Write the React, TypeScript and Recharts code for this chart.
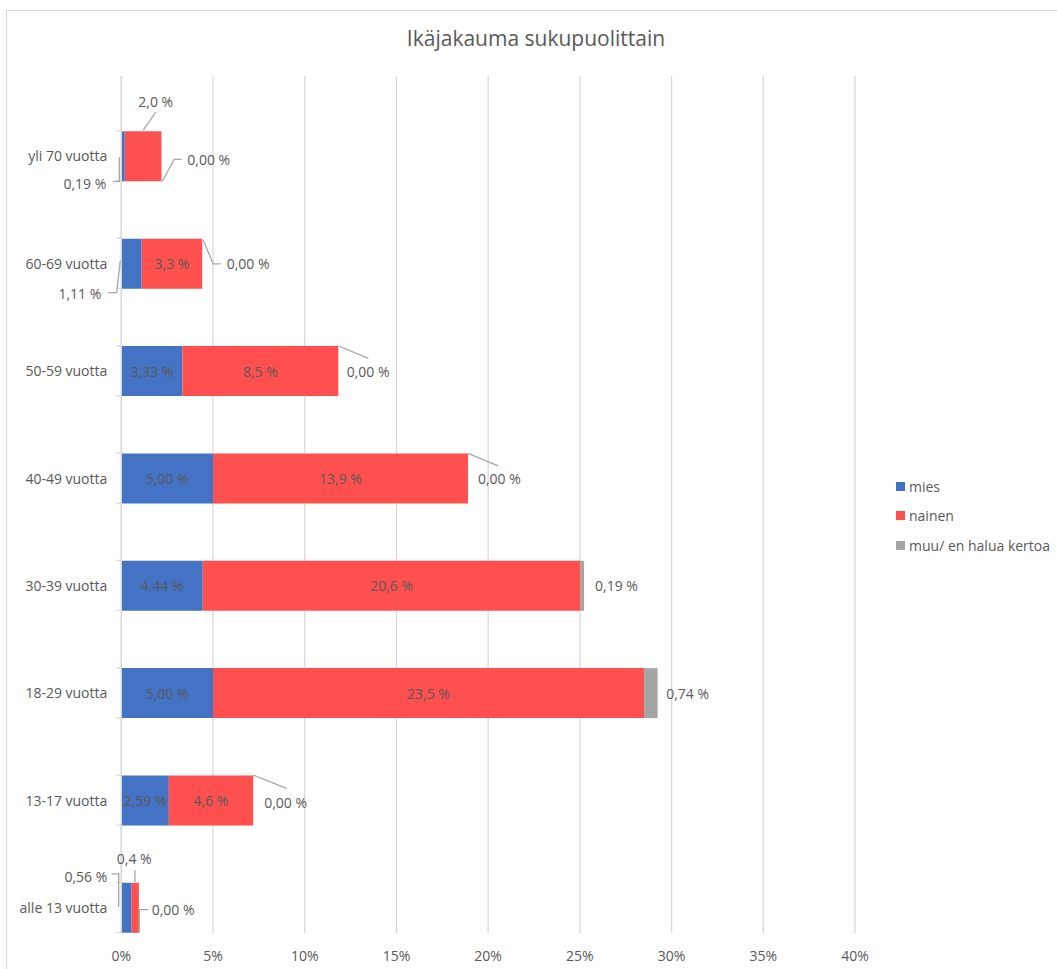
import React from 'react';
import { BarChart, Bar, XAxis, YAxis, CartesianGrid, Legend, LabelList } from 'recharts';

// ---------- data ----------
const categories = [
  'yli 70 vuotta',
  '60-69 vuotta',
  '50-59 vuotta',
  '40-49 vuotta',
  '30-39 vuotta',
  '18-29 vuotta',
  '13-17 vuotta',
  'alle 13 vuotta',
];
const miesValues = [0.19, 1.11, 3.33, 5.0, 4.44, 5.0, 2.59, 0.56];
const nainenValues = [2.0, 3.3, 8.5, 13.9, 20.6, 23.5, 4.6, 0.4];
const muuValues = [0, 0, 0, 0, 0.19, 0.74, 0, 0];
const seriesNames = ['mies', 'nainen', 'muu/ en halua kertoa'];
const xTicks = [0, 5, 10, 15, 20, 25, 30, 35, 40];
const chartTitle = 'Ikäjakauma sukupuolittain';

// ---------- styles ----------
const COLORS = ['#4472C4', '#FF5050', '#A5A5A5'];
const TEXT = '#595959';
const GRID = '#d9d9d9';
const LEADER = '#a6a6a6';
const FONT = '"Open Sans", "Liberation Sans", sans-serif';

const W = 1057;
const H = 969;
const Y_AXIS_W = 121.3;
const X_AXIS_H = 30;
const MARGIN = { top: 76, right: 202, bottom: 6, left: 0 };
const PLOT_BOTTOM = H - MARGIN.bottom - X_AXIS_H;
const BAR_SIZE = 50;

const data = categories.map((c, i) => ({
  cat: c,
  mies: miesValues[i],
  nainen: nainenValues[i],
  muu: muuValues[i],
}));

// label layout (offsets relative to the segment, per category); null = centred inside
type LabelSpec = {
  ref: 'start' | 'mid' | 'end';
  text: [number, number];
  anchor: 'start' | 'middle' | 'end';
  leader?: [number, number][];
} | null;

const miesLabelLayout: LabelSpec[] = [
  { ref: 'start', text: [-15, 27], anchor: 'end', leader: [[-8.5, 25], [-2, 25], [-2, 1]] },
  { ref: 'start', text: [-20, 30], anchor: 'end', leader: [[-13, 29], [-4.6, 29], [-1, -3]] },
  null,
  null,
  null,
  null,
  null,
  { ref: 'start', text: [-14, -31], anchor: 'end', leader: [[-9.6, -34], [-2.6, -34], [-2.6, -1]] },
];
const nainenLabelLayout: LabelSpec[] = [
  { ref: 'mid', text: [12.6, -55.3], anchor: 'middle', leader: [[0, -26], [12.7, -44.3]] },
  null,
  null,
  null,
  null,
  null,
  null,
  { ref: 'mid', text: [-1, -49], anchor: 'middle', leader: [[-0.3, -25.8], [-0.3, -37.5]] },
];
const muuLabelLayout: LabelSpec[] = [
  { ref: 'end', text: [25.8, 3], anchor: 'start', leader: [[0.8, 25], [12.8, 3], [20.2, 3]] },
  { ref: 'end', text: [24.5, 0.3], anchor: 'start', leader: [[1, -23.7], [11, 0.3], [18.5, 0.3]] },
  { ref: 'end', text: [8.4, 0.7], anchor: 'start', leader: [[0, -25.3], [30, -12.7]] },
  { ref: 'end', text: [10, 0], anchor: 'start', leader: [[0, -25], [30, -12.5]] },
  { ref: 'end', text: [11, 0], anchor: 'start' },
  { ref: 'end', text: [8.6, 0], anchor: 'start' },
  { ref: 'end', text: [11, 2], anchor: 'start', leader: [[0, -25.4], [33.4, -12]] },
  { ref: 'end', text: [12.8, 1.8], anchor: 'start', leader: [[0.4, 25], [0.4, 1.8], [9.4, 1.8]] },
];

function fmt(v: number, d: number) {
  return v.toFixed(d).replace('.', ',') + ' %';
}

function renderOne(txt: string, x: number, w: number, yc: number, spec: LabelSpec, key: string) {
  if (!spec) {
    return (
      <text key={key} x={x + w / 2} y={yc} textAnchor="middle" dominantBaseline="central" fill={TEXT} fontSize={14} fontFamily={FONT}>
        {txt}
      </text>
    );
  }
  const rx = spec.ref === 'start' ? x : spec.ref === 'mid' ? x + w / 2 : x + w;
  return (
    <g key={key}>
      {spec.leader && (
        <polyline
          points={spec.leader.map(([dx, dy]) => `${rx + dx},${yc + dy}`).join(' ')}
          fill="none"
          stroke={LEADER}
          strokeWidth={1.3}
        />
      )}
      <text
        x={rx + spec.text[0]}
        y={yc + spec.text[1]}
        textAnchor={spec.anchor}
        dominantBaseline="central"
        fill={TEXT}
        fontSize={14}
        fontFamily={FONT}
      >
        {txt}
      </text>
    </g>
  );
}

function readBox(props: any) {
  const vb = props.viewBox || {};
  return {
    x: Number(vb.x ?? props.x),
    y: Number(vb.y ?? props.y),
    w: Number(vb.width ?? props.width),
    h: Number(vb.height ?? props.height),
  };
}

const miesLabel = (props: any) => {
  const idx: number = props.index;
  const { x, y, w, h } = readBox(props);
  if (idx == null || Number.isNaN(x) || Number.isNaN(y)) return null;
  return renderOne(fmt(miesValues[idx], 2), x, w, y + h / 2, miesLabelLayout[idx], 'm');
};

// the nainen label also places the muu label, since zero-width muu segments get no label of their own
const nainenLabel = (props: any) => {
  const idx: number = props.index;
  const { x, y, w, h } = readBox(props);
  if (idx == null || Number.isNaN(x) || Number.isNaN(y)) return null;
  const yc = y + h / 2;
  const pxPerUnit = w / nainenValues[idx];
  const muuX = x + w;
  const muuW = muuValues[idx] * pxPerUnit;
  return (
    <g>
      {renderOne(fmt(nainenValues[idx], 1), x, w, yc, nainenLabelLayout[idx], 'n')}
      {renderOne(fmt(muuValues[idx], 2), muuX, muuW, yc, muuLabelLayout[idx], 'u')}
    </g>
  );
};

const CategoryTick = (props: any) => {
  const { y, payload } = props;
  const ax = MARGIN.left + Y_AXIS_W;
  return (
    <g>
      <text x={ax - 14} y={y} textAnchor="end" dominantBaseline="central" fill={TEXT} fontSize={14} fontFamily={FONT}>
        {payload.value}
      </text>
      <line x1={ax - 5} x2={ax} y1={y - BAR_SIZE / 2} y2={y - BAR_SIZE / 2} stroke={GRID} strokeWidth={1.3} />
      <line x1={ax - 5} x2={ax} y1={y + BAR_SIZE / 2} y2={y + BAR_SIZE / 2} stroke={GRID} strokeWidth={1.3} />
    </g>
  );
};

const PercentTick = (props: any) => {
  const { x, payload } = props;
  return (
    <text x={x} y={PLOT_BOTTOM + 22} textAnchor="middle" dominantBaseline="central" fill={TEXT} fontSize={14} fontFamily={FONT}>
      {`${payload.value}%`}
    </text>
  );
};

const LegendBox = () => (
  <div style={{ position: 'absolute', left: 896, top: 472, fontFamily: FONT, fontSize: 14, color: TEXT, whiteSpace: 'nowrap' }}>
    {seriesNames.map((n, i) => (
      <div key={n} style={{ display: 'flex', alignItems: 'center', height: 29.3 }}>
        <span style={{ display: 'inline-block', width: 9, height: 9, background: COLORS[i], marginRight: 4 }} />
        <span>{n}</span>
      </div>
    ))}
  </div>
);

export default function App() {
  return (
    <div style={{ position: 'absolute', left: 0, top: 0, width: W, height: H, overflow: 'hidden', background: '#fff' }}>
      <div
        style={{
          position: 'absolute',
          left: 6,
          top: 10,
          width: 1100,
          height: 1000,
          border: '1.5px solid #d9d9d9',
          boxSizing: 'border-box',
        }}
      />
      <div
        style={{
          position: 'absolute',
          left: 0,
          width: 1072,
          top: 28,
          textAlign: 'center',
          fontFamily: FONT,
          fontSize: 21,
          lineHeight: '21px',
          color: TEXT,
        }}
      >
        {chartTitle}
      </div>
      <div style={{ position: 'absolute', left: 0, top: 0 }}>
        <BarChart width={W} height={H} data={data} layout="vertical" margin={MARGIN} barSize={BAR_SIZE}>
          <CartesianGrid horizontal={false} stroke={GRID} strokeWidth={1.3} />
          <XAxis
            type="number"
            domain={[0, 40]}
            ticks={xTicks}
            interval={0}
            axisLine={false}
            tickLine={false}
            height={X_AXIS_H}
            tick={(p: any) => <PercentTick {...p} />}
          />
          <YAxis
            type="category"
            dataKey="cat"
            width={Y_AXIS_W}
            interval={0}
            axisLine={{ stroke: GRID, strokeWidth: 1.3 }}
            tickLine={false}
            padding={{ top: 26.3, bottom: -28.2 }}
            tick={(p: any) => <CategoryTick {...p} />}
          />
          <Legend
            content={() => <LegendBox />}
            wrapperStyle={{ position: 'absolute', left: 0, top: 0, width: 0, height: 0 }}
          />
          <Bar dataKey="mies" name={seriesNames[0]} stackId="a" fill={COLORS[0]} isAnimationActive={false}>
            <LabelList dataKey="mies" content={miesLabel} />
          </Bar>
          <Bar dataKey="nainen" name={seriesNames[1]} stackId="a" fill={COLORS[1]} isAnimationActive={false}>
            <LabelList dataKey="nainen" content={nainenLabel} />
          </Bar>
          <Bar dataKey="muu" name={seriesNames[2]} stackId="a" fill={COLORS[2]} isAnimationActive={false} />
        </BarChart>
      </div>
    </div>
  );
}
